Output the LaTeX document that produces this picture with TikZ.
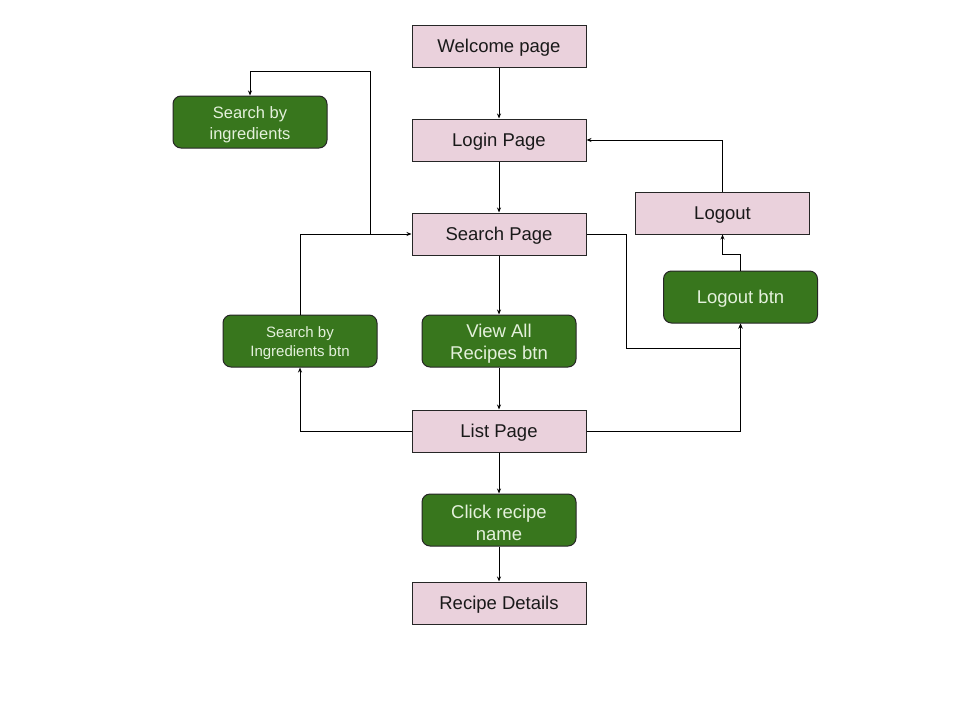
\documentclass[tikz,border=0pt]{standalone}
\usepackage{fontspec}
\setmainfont{Liberation Sans}
\usetikzlibrary{arrows.meta}
\definecolor{pagepink}{HTML}{EAD1DC}
\definecolor{btngreen}{HTML}{38761D}
\definecolor{btntext}{HTML}{E4F1DC}
\newcommand\lowstrut{\rule{0pt}{1.02em}}
\begin{document}
\begin{tikzpicture}[x=1pt,y=-1pt,
 lowtext/.style={execute at begin node={\rule{0pt}{0.95em}}},
 page/.style={draw=black!85,line width=1pt,fill=pagepink,minimum width=174pt,minimum height=42pt,inner sep=0pt,font=\fontsize{18.5}{21}\selectfont,text=black!90,lowtext},
 btn/.style={draw=black!85,line width=1pt,fill=btngreen,rounded corners=8pt,minimum width=154pt,minimum height=52pt,inner sep=0pt,align=center,text=btntext,font=\fontsize{18.5}{22}\selectfont},
 conn/.style={draw=black,line width=0.9pt,-{Stealth[length=5pt,width=4pt]}}]
\useasboundingbox (0,0) rectangle (960,720);
\node[page] (wel) at (499,46) {Welcome page};
\node[page] (login) at (499,140) {Login Page};
\node[page] (sp) at (499,234) {Search Page};
\node[page] (lo) at (722.5,213) {Logout};
\node[btn,lowtext] (lb) at (740.5,297) {Logout btn};
\node[btn,font=\fontsize{16.5}{21}\selectfont] (sbi) at (250,122) {\lowstrut Search by\\ingredients};
\node[btn,font=\fontsize{15}{19.5}\selectfont] (sib) at (300,341) {\lowstrut Search by\\Ingredients btn};
\node[btn] (va) at (499,341) {\lowstrut View All\\Recipes btn};
\node[page] (lp) at (499,431) {List Page};
\node[btn] (cr) at (499,520) {\lowstrut Click recipe\\name};
\node[page] (rd) at (499,603) {Recipe Details};
\coordinate (j2) at (370,234);
\coordinate (t2) at (370,71);
\coordinate (j3) at (626,348);
\coordinate (j4) at (722.5,254);
\draw[conn] (wel) -- (login);
\draw[conn] (login) -- (sp);
\draw[conn] (sp) -- (va);
\draw[conn] (va) -- (lp);
\draw[conn] (lp) -- (cr);
\draw[conn] (cr) -- (rd);
\draw[conn] (lp.west) -| (sib.south);
\draw[conn] (sib.north) |- (sp.west);
\draw[conn] (j2) -- (t2) -| (sbi.north);
\draw[conn] (lp.east) -| (lb.south);
\draw[conn] (sp.east) -| (j3) -| (lb.south);
\draw[conn] (lb.north) |- (j4) -- (lo.south);
\draw[conn] (lo.north) |- (login.east);
\end{tikzpicture}
\end{document}
